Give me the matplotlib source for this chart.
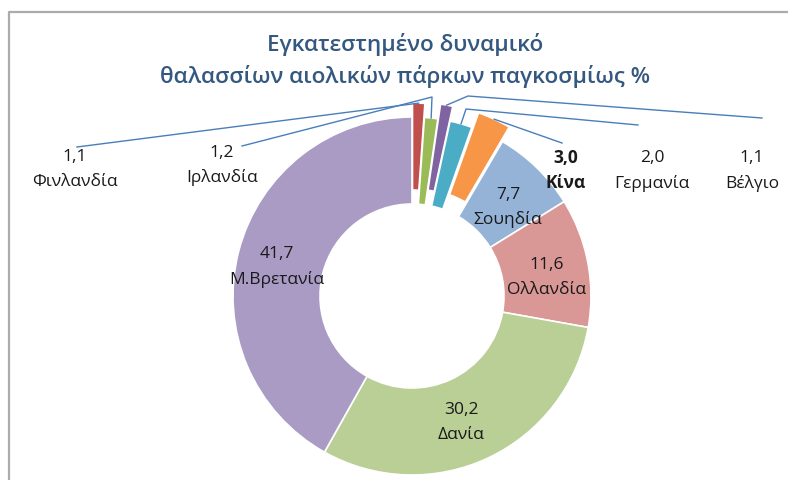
import numpy as np
import matplotlib
matplotlib.use("Agg")
from matplotlib import pyplot as plt

# data, clockwise from 12 o'clock
countries = ["Φινλανδία", "Ιρλανδία", "Βέλγιο", "Γερμανία", "Κίνα",
             "Σουηδία", "Ολλανδία", "Δανία", "Μ.Βρετανία"]
shares = [1.1, 1.2, 1.1, 2.0, 3.0, 7.7, 11.6, 30.2, 41.7]
value_text = ["1,1", "1,2", "1,1", "2,0", "3,0", "7,7", "11,6", "30,2", "41,7"]
colors = ["#C0504D", "#9BBB59", "#8064A2", "#4BACC6", "#F79646",
          "#95B3D7", "#D99795", "#B9CF95", "#A99BC4"]

title1 = "Εγκατεστημένο δυναμικό"
title2 = "θαλασσίων αιολικών πάρκων παγκοσμίως %"

plt.rcParams['font.family'] = ['Open Sans', 'DejaVu Sans']

W, H = 788, 480
fig = plt.figure(figsize=(W/100, H/100), dpi=100)
ax = fig.add_axes([0, 0, 1, 1])
ax.set_aspect('equal')
ax.axis('off')

cx, cy, R = 412, 296, 179
# pulled-out slices (offset in px)
pulled = {0: 14, 2: 15, 4: 16}
explode = [pulled.get(i, 0) for i in range(len(shares))]

# with y inverted, increasing angle goes clockwise on screen; -90 is the top
wedges, _ = ax.pie(shares, colors=colors, explode=explode, startangle=-90,
                   counterclock=True, center=(cx, cy), radius=R,
                   wedgeprops=dict(width=87, edgecolor='white', linewidth=1.2))
ax.set_xlim(0, W)
ax.set_ylim(H, 0)

# frame of the chart area (only top/left visible in the reference)
ax.plot([9, 9, W], [H, 12, 12], color='#ABABAB', lw=1.6, clip_on=False)

ax.text(405, 45, title1, ha='center', va='center',
        fontsize=16.2, fontweight='semibold', color='#34587F')
ax.text(405, 76, title2, ha='center', va='center',
        fontsize=16.2, fontweight='semibold', color='#34587F')

# label layout: (x, y of value line), knee point, end of leader
label_pos = {
    0: (75, 157), 1: (222, 153), 2: (752, 158), 3: (652, 158), 4: (566, 158),
    5: (508, 195), 6: (547, 265), 7: (461, 410), 8: (277, 254),
}
knees = {0: None, 1: (432, 97), 2: (468, 96), 3: (466, 109), 4: None}
ends = {0: (77, 147), 1: (242, 146), 2: (762, 118), 3: (638, 125), 4: (562, 143)}

lead_col = '#4A7EBB'
for i, w in enumerate(wedges):
    x, y = label_pos[i]
    bold = 'bold' if countries[i] == "Κίνα" else 'normal'
    ax.text(x, y, value_text[i], ha='center', va='center', fontsize=12.5,
            fontweight=bold, color='#1A1A1A')
    ax.text(x, y + 25, countries[i], ha='center', va='center', fontsize=12.5,
            fontweight=bold, color='#1A1A1A')
    if i in ends:
        mid = np.deg2rad((w.theta1 + w.theta2) / 2)
        sx = w.center[0] + w.r * np.cos(mid)
        sy = w.center[1] + w.r * np.sin(mid)
        pts = [(sx, sy)]
        if knees[i] is not None:
            pts.append(knees[i])
        pts.append(ends[i])
        xs, ys = zip(*pts)
        ax.plot(xs, ys, color=lead_col, lw=1)

fig.savefig("out.png", dpi=100, facecolor='white')
